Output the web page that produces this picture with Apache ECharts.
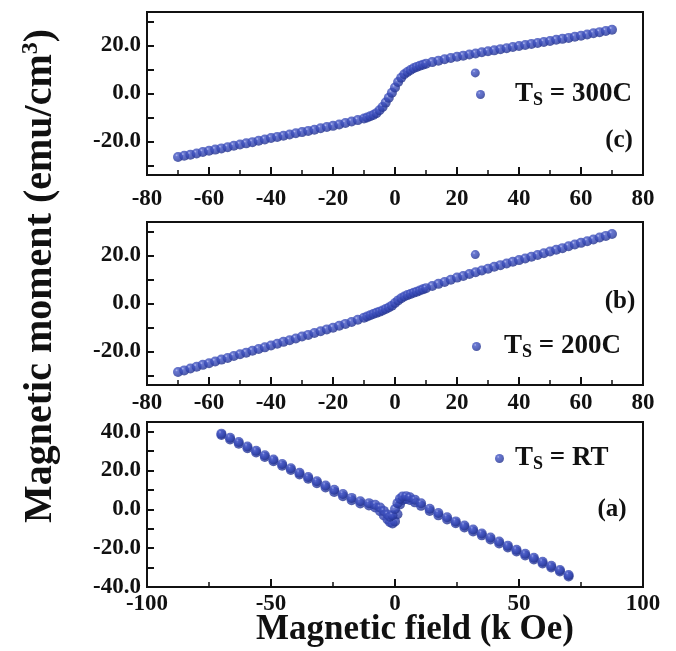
<!DOCTYPE html>
<html>
<head>
<meta charset="utf-8">
<script src="https://cdn.jsdelivr.net/npm/echarts@6/dist/echarts.min.js"></script>
<style>
  html, body { margin: 0; padding: 0; background: #fff; }
  #chart { width: 676px; height: 651px; }
</style>
</head>
<body>
<div id="chart"></div>
<script>
// panel (c) : Ts = 300C
const fieldC = [-70,-68,-66,-64,-62,-60,-58,-56,-54,-52,-50,-48,-46,-44,-42,-40,-38,-36,-34,-32,-30,-28,-26,-24,-22,-20,-18,-16,-14,-12,-10,
  -9,-8,-7,-6,-5,-4,-3,-2,-1,0,1,2,3,4,5,6,7,8,9,10,
  12,14,16,18,20,22,24,26,28,30,32,34,36,38,40,42,44,46,48,50,52,54,56,58,60,62,64,66,68,70];
const momentC = [-26.5,-26.0,-25.5,-25.0,-24.4,-23.9,-23.4,-22.9,-22.4,-21.8,-21.3,-20.8,-20.3,-19.7,-19.2,-18.6,-18.1,-17.6,-17.1,-16.6,-16.1,-15.6,-15.1,-14.5,-14.0,-13.5,-12.9,-12.3,-11.7,-11.1,-10.4,
  -10.0,-9.5,-9.0,-8.2,-7.0,-5.6,-3.8,-1.8,0.3,2.5,4.8,6.6,8.0,9.0,9.8,10.5,11.1,11.6,12.0,12.4,
  13.1,13.7,14.3,14.8,15.3,15.8,16.3,16.7,17.2,17.6,18.0,18.5,18.9,19.4,19.8,20.2,20.7,21.1,21.5,21.9,22.4,22.8,23.2,23.7,24.1,24.6,25.1,25.6,26.1,26.6];
const strayC = [[25.9, 8.6]];

// panel (b) : Ts = 200C
const fieldB = fieldC.slice();
const momentB = [-28.6,-27.9,-27.1,-26.4,-25.6,-24.9,-24.2,-23.4,-22.7,-21.9,-21.2,-20.5,-19.7,-19.0,-18.3,-17.5,-16.8,-16.0,-15.3,-14.6,-13.8,-13.1,-12.3,-11.6,-10.8,-10.1,-9.3,-8.5,-7.7,-6.8,-5.9,
  -5.4,-4.9,-4.4,-3.9,-3.4,-2.9,-2.3,-1.7,-0.9,0.2,1.3,2.2,2.9,3.5,4.0,4.5,4.9,5.4,5.9,6.4,
  7.3,8.2,9.0,9.9,10.8,11.5,12.3,13.0,13.8,14.5,15.3,16.0,16.7,17.4,18.1,18.8,19.5,20.2,21.0,21.7,22.4,23.1,23.9,24.6,25.3,26.0,26.7,27.5,28.2,29.0];
const strayB = [[25.9, 20.4]];

// panel (a) : Ts = RT, two sweeps
const fieldA = [-70,-66.5,-63,-59.5,-56,-52.5,-49,-45.5,-42,-38.5,-35,-31.5,-28,-24.5,-21,-17.5,-14,-10.5,
  -8,-6,-4.5,-3,-2,-1,0,1,2,3,4.5,6,8,
  10.5,14,17.5,21,24.5,28,31.5,35,38.5,42,45.5,49,52.5,56,59.5,63,66.5,70];
const upA = [38.3,36.0,33.8,31.5,29.3,27.0,24.8,22.5,20.3,18.0,15.8,13.5,11.3,9.0,6.8,4.7,3.0,2.0,
  1.0,-1.0,-3.2,-5.2,-6.6,-7.3,-6.2,-2.5,2.5,4.8,5.3,4.8,3.6,
  1.8,-0.8,-3.1,-5.2,-7.2,-9.3,-11.4,-13.4,-15.5,-17.6,-19.6,-21.7,-23.8,-25.8,-27.9,-30.0,-32.0,-34.6];
const downA = [39.0,36.9,34.7,32.4,30.2,27.9,25.7,23.4,21.2,18.9,16.7,14.5,12.3,10.1,7.9,5.9,4.2,3.2,
  2.4,1.0,-0.8,-2.6,-3.8,-3.0,0.2,3.2,5.4,6.6,6.8,6.2,5.0,
  3.1,0.3,-1.9,-4.1,-6.2,-8.3,-10.4,-12.4,-14.5,-16.6,-18.7,-20.8,-22.9,-24.9,-27.0,-29.1,-31.2,-33.8];

const serif = 'Liberation Serif';
const ink = '#111';

const chart = echarts.init(document.getElementById('chart'));

// blue bead with a small highlight
const dot = new echarts.graphic.RadialGradient(0.36, 0.32, 0.7, [
  { offset: 0, color: '#a3adf0' },
  { offset: 0.2, color: '#4557c4' },
  { offset: 0.65, color: '#3042ae' },
  { offset: 1, color: '#22318a' }
]);

function pairs(xs, ys) {
  return xs.map((x, i) => [x, ys[i]]);
}

function xAxisFor(grid, min, max, interval, margin) {
  return {
    type: 'value', gridIndex: grid, min: min, max: max, interval: interval,
    axisLine: { show: true, onZero: false, lineStyle: { color: ink, width: 2 } },
    axisTick: { show: true, inside: true, length: 8, lineStyle: { color: ink, width: 2 } },
    minorTick: { show: true, splitNumber: 2, length: 5, lineStyle: { color: ink, width: 1.5 } },
    splitLine: { show: false },
    axisLabel: {
      fontFamily: serif, fontWeight: 'bold', fontSize: 23, color: ink, margin: margin,
      formatter: v => String(v)
    }
  };
}

function yAxisFor(grid, min, max, interval) {
  return {
    type: 'value', gridIndex: grid, min: min, max: max, interval: interval,
    axisLine: { show: true, onZero: false, lineStyle: { color: ink, width: 2 } },
    axisTick: { show: true, inside: true, length: 7, lineStyle: { color: ink, width: 2 } },
    splitLine: { show: false },
    axisLabel: {
      fontFamily: serif, fontWeight: 'bold', fontSize: 23, color: ink, margin: 6,
      formatter: v => (v % 20 === 0 ? v.toFixed(1) : '')
    }
  };
}

function legendFor(name, left, top, gap) {
  return {
    data: [name], left: left, top: top, padding: 0,
    icon: 'circle', itemWidth: 9, itemHeight: 9,
    selectedMode: false,
    formatter: n => '{g|}{t|T}{s|S}{t| = ' + n + '}',
    textStyle: {
      rich: {
        g: { width: gap },
        t: { fontFamily: serif, fontWeight: 'bold', fontSize: 27, lineHeight: 30, color: ink },
        s: { fontFamily: serif, fontWeight: 'bold', fontSize: 18, lineHeight: 14, color: ink, verticalAlign: 'bottom' }
      }
    }
  };
}

const gridBox = { show: true, borderColor: ink, borderWidth: 2, backgroundColor: 'transparent' };

const option = {
  animation: false,
  backgroundColor: '#fff',
  grid: [
    Object.assign({ left: 147, top: 12, width: 496, height: 163 }, gridBox),
    Object.assign({ left: 147, top: 222, width: 496, height: 163 }, gridBox),
    Object.assign({ left: 147, top: 422, width: 496, height: 165 }, gridBox)
  ],
  xAxis: [
    xAxisFor(0, -80, 80, 20, 13),
    xAxisFor(1, -80, 80, 20, 7),
    xAxisFor(2, -100, 100, 50, 6)
  ],
  yAxis: [
    yAxisFor(0, -34, 34),
    yAxisFor(1, -34, 34),
    yAxisFor(2, -40, 45, 10)
  ],
  legend: [
    legendFor('300C', 476, 81, 25),
    legendFor('200C', 472, 333, 18),
    legendFor('RT', 495, 445, 6)
  ],
  series: [
    { name: '300C', type: 'scatter', xAxisIndex: 0, yAxisIndex: 0, symbolSize: 10,
      itemStyle: { color: dot }, data: pairs(fieldC, momentC) },
    { name: 'extraC', type: 'scatter', xAxisIndex: 0, yAxisIndex: 0, symbolSize: 9,
      itemStyle: { color: dot }, data: strayC },
    { name: '200C', type: 'scatter', xAxisIndex: 1, yAxisIndex: 1, symbolSize: 10,
      itemStyle: { color: dot }, data: pairs(fieldB, momentB) },
    { name: 'extraB', type: 'scatter', xAxisIndex: 1, yAxisIndex: 1, symbolSize: 9,
      itemStyle: { color: dot }, data: strayB },
    { name: 'RT', type: 'scatter', xAxisIndex: 2, yAxisIndex: 2, symbolSize: 10,
      itemStyle: { color: dot }, data: pairs(fieldA, upA) },
    { name: 'RT down', type: 'scatter', xAxisIndex: 2, yAxisIndex: 2, symbolSize: 10,
      itemStyle: { color: dot }, data: pairs(fieldA, downA) }
  ],
  graphic: [
    { type: 'text', x: 41, y: 276, rotation: Math.PI / 2,
      style: {
        text: '{a|Magnetic moment (emu/cm}{s|3}{a|)}',
        align: 'center', verticalAlign: 'middle',
        rich: {
          a: { fontFamily: serif, fontWeight: 'bold', fontSize: 40, lineHeight: 44, fill: ink },
          s: { fontFamily: serif, fontWeight: 'bold', fontSize: 24, lineHeight: 24, fill: ink, verticalAlign: 'top' }
        }
      } },
    { type: 'text', x: 415, y: 630,
      style: { text: 'Magnetic field (k Oe)', font: 'bold 35px "Liberation Serif"', fill: ink,
        align: 'center', verticalAlign: 'middle' } },
    { type: 'text', x: 619, y: 141,
      style: { text: '(c)', font: 'bold 25px "Liberation Serif"', fill: ink, align: 'center', verticalAlign: 'middle' } },
    { type: 'text', x: 620, y: 302,
      style: { text: '(b)', font: 'bold 25px "Liberation Serif"', fill: ink, align: 'center', verticalAlign: 'middle' } },
    { type: 'text', x: 612, y: 510,
      style: { text: '(a)', font: 'bold 25px "Liberation Serif"', fill: ink, align: 'center', verticalAlign: 'middle' } }
  ]
};

chart.setOption(option);
</script>
</body>
</html>
